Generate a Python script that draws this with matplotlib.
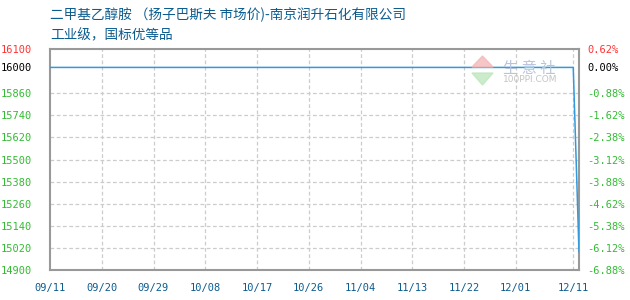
import matplotlib
matplotlib.use("Agg")
import matplotlib.pyplot as plt
from matplotlib.patches import Polygon

plt.rcParams['font.family'] = ['Noto Sans CJK SC', 'DejaVu Sans']

# ---- datos ----
fechas_dias = [0, 91, 92]            # días desde 09/11
precios = [16000, 16000, 15000]

xtick_dias = [0, 9, 18, 27, 36, 45, 54, 63, 72, 81, 91]
xtick_labels = ["09/11", "09/20", "09/29", "10/08", "10/17", "10/26",
                "11/04", "11/13", "11/22", "12/01", "12/11"]

ytick_vals = [16100, 16000, 15860, 15740, 15620, 15500, 15380, 15260, 15140, 15020, 14900]
pct_labels = ["0.62%", "0.00%", "-0.88%", "-1.62%", "-2.38%", "-3.12%",
              "-3.88%", "-4.62%", "-5.38%", "-6.12%", "-6.88%"]

titulo1 = "二甲基乙醇胺 （扬子巴斯夫 市场价)-南京润升石化有限公司"
titulo2 = "工业级，国标优等品"

ROJO = "#ff3333"
VERDE = "#33bb33"
AZUL_TXT = "#0b5c8f"
GRIS = "#999999"

fig = plt.figure(figsize=(6.3, 3.0), dpi=100)
ax = fig.add_axes([50/630, 30/300, 529/630, 221/300])

ax.plot(fechas_dias, precios, color="#3399dd", linewidth=1.1, zorder=3)

ax.set_xlim(0, 92)
ax.set_ylim(14900, 16100)
ax.set_xticks(xtick_dias)
ax.set_xticklabels(xtick_labels, family="DejaVu Sans Mono", fontsize=7.5, color=AZUL_TXT)
ax.set_yticks(ytick_vals)
ax.set_yticklabels([str(v) for v in ytick_vals], family="DejaVu Sans Mono", fontsize=7.5)
for lbl, v in zip(ax.get_yticklabels(), ytick_vals):
    lbl.set_color(ROJO if v > 16000 else ("black" if v == 16000 else VERDE))
ax.tick_params(length=0, pad=13)
ax.tick_params(axis="x", pad=9)

# rejilla (sin línea en 16000)
for v in ytick_vals[2:-1]:
    ax.axhline(v, color="#cccccc", linestyle=(0, (3, 2)), linewidth=0.9, zorder=1)
for d in xtick_dias[1:]:
    ax.axvline(d, color="#cccccc", linestyle=(0, (3, 2)), linewidth=0.9, zorder=1)

for s in ax.spines.values():
    s.set_color(GRIS)
    s.set_linewidth(1.5)

# eje derecho en porcentaje
ax2 = ax.twinx()
ax2.set_ylim(14900, 16100)
ax2.set_yticks(ytick_vals)
ax2.set_yticklabels(pct_labels, family="DejaVu Sans Mono", fontsize=7.5)
for lbl, v in zip(ax2.get_yticklabels(), ytick_vals):
    lbl.set_color(ROJO if v > 16000 else ("black" if v == 16000 else VERDE))
ax2.tick_params(length=0, pad=6)
for s in ax2.spines.values():
    s.set_visible(False)

# títulos
fig.text(50/630, 1 - 15/300, titulo1, fontsize=9.8, color=AZUL_TXT, va="center")
fig.text(50/630, 1 - 35/300, titulo2, fontsize=9.8, color=AZUL_TXT, va="center")

# marca de agua
def fx(px):
    return px / 630
def fy(py):
    return 1 - py / 300
fig.patches.append(Polygon([(fx(472), fy(67)), (fx(493), fy(67)), (fx(482.5), fy(56))],
                           closed=True, transform=fig.transFigure, color="#f4b8b8", alpha=0.8, zorder=5))
fig.patches.append(Polygon([(fx(472), fy(73)), (fx(493), fy(73)), (fx(482.5), fy(85))],
                           closed=True, transform=fig.transFigure, color="#bfe6bf", alpha=0.8, zorder=5))
fig.text(fx(503), fy(68), "生 意 社", fontsize=11, color="#b8c4dc", va="center", zorder=5)
fig.text(fx(503), fy(80), "100PPI.COM", fontsize=6.5, color="#c4c4c4", va="center",
         family="DejaVu Sans", zorder=5)

fig.savefig("out.png", dpi=100)
